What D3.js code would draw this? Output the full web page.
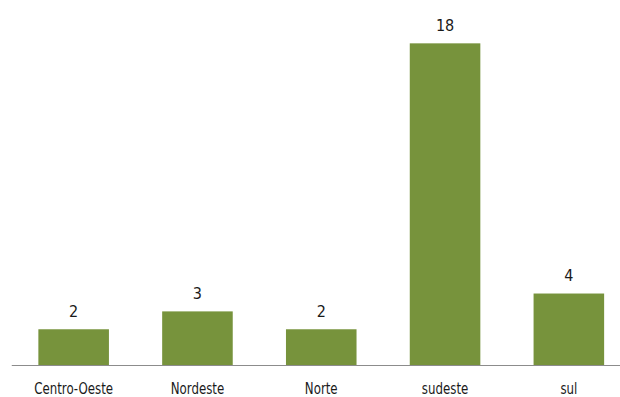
<!DOCTYPE html>
<html>
<head>
<meta charset="utf-8">
<script src="https://cdn.jsdelivr.net/npm/d3@7"></script>
<style>
  body { margin: 0; background: #fff; }
  text { font-family: "DejaVu Sans Condensed", "Liberation Sans Narrow", sans-serif; fill: #1a1a1a; }
</style>
</head>
<body>
<svg id="chart" width="620" height="397"></svg>
<script>
(() => {
    // data
    const regions = ["Centro-Oeste", "Nordeste", "Norte", "sudeste", "sul"];
    const counts = [2, 3, 2, 18, 4];

    const svg = d3.select("svg#chart");
    const baseline = 365;

    const xScale = d3.scaleBand()
        .domain(regions)
        .range([11.75, 630.75])
        .paddingInner(0.43)
        .paddingOuter(0.215);

    const yScale = d3.scaleLinear()
        .domain([0, 20])
        .range([baseline, baseline - 20 * 17.87]);

    const data = regions.map((r, i) => ({region: r, value: counts[i]}));

    // bars
    svg.append("g")
        .selectAll("rect")
        .data(data)
        .enter().append("rect")
        .attr("x", d => xScale(d.region))
        .attr("y", d => yScale(d.value))
        .attr("width", xScale.bandwidth())
        .attr("height", d => baseline - yScale(d.value))
        .attr("fill", "#77933c");

    // x axis
    const xAxis = svg.append("g")
        .attr("transform", `translate(0, ${baseline})`)
        .call(d3.axisBottom(xScale).tickSize(0).tickPadding(18));
    xAxis.select(".domain").attr("stroke", "#8c8c8c").attr("d", "M11.75,0.5H631");
    // narrow the labels a bit to get closer to Calibri proportions
    xAxis.selectAll("text")
        .style("font-size", "16px")
        .attr("transform", "scale(0.82,1)")
        .attr("fill", "#1a1a1a");

    // value labels
    svg.append("g")
        .selectAll("text")
        .data(data)
        .enter().append("text")
        .attr("x", d => xScale(d.region) + xScale.bandwidth() / 2)
        .attr("y", d => yScale(d.value) - 12.6)
        .attr("text-anchor", "middle")
        .style("font-size", "16px")
        .text(d => d.value);
})();
</script>
</body>
</html>
